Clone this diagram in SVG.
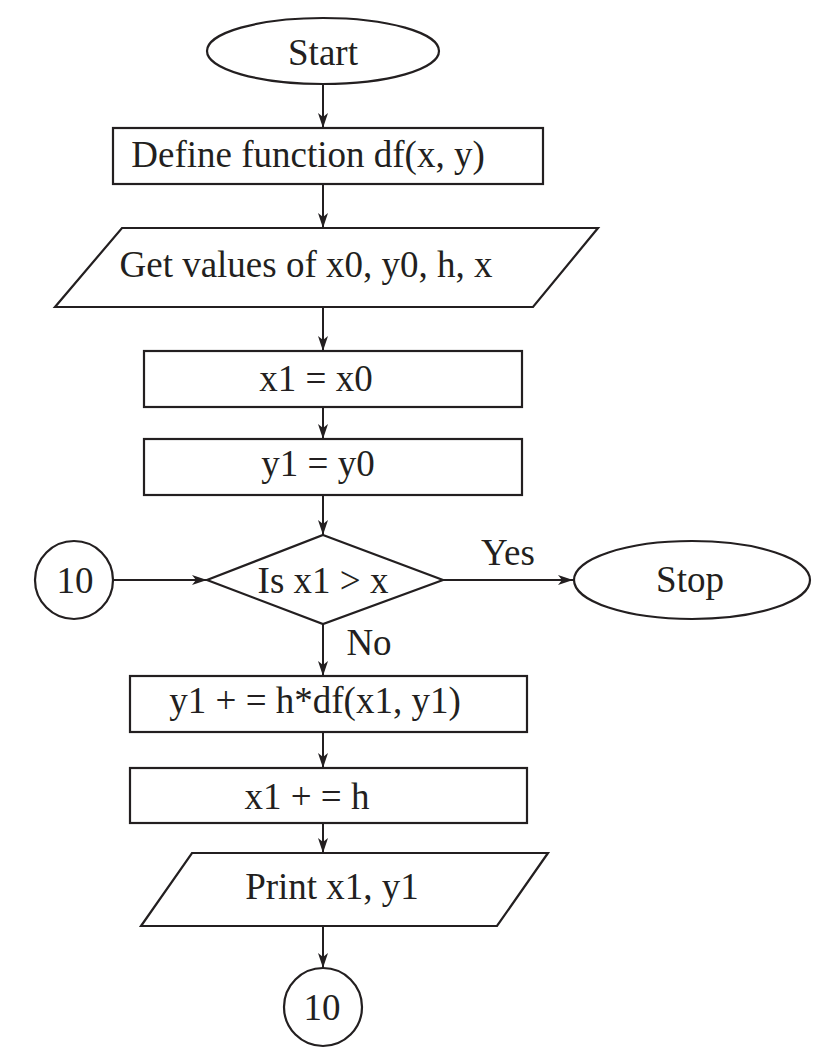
<svg xmlns="http://www.w3.org/2000/svg" width="815" height="1058" viewBox="0 0 815 1058">
<style>
.s{fill:#fff;stroke:#231f20;stroke-width:2.2}
.t{font-family:"Liberation Serif","Times New Roman",serif;font-size:37px;fill:#231f20;text-anchor:middle}
.c{stroke:#231f20;stroke-width:2;fill:none;marker-end:url(#a)}
</style>
<defs>
<marker id="a" markerWidth="15" markerHeight="10" refX="15" refY="5" orient="auto" markerUnits="userSpaceOnUse" viewBox="0 0 15 10">
<path d="M0,0 L15,5 L0,10 L4,5 Z" fill="#231f20"/>
</marker>
</defs>
<rect width="815" height="1058" fill="#fff"/>
<g id="connectors">
<line class="c" x1="323" y1="84" x2="323" y2="128"/>
<line class="c" x1="323" y1="184" x2="323" y2="228"/>
<line class="c" x1="323" y1="307" x2="323" y2="351"/>
<line class="c" x1="323" y1="407" x2="323" y2="439"/>
<line class="c" x1="323" y1="495" x2="323" y2="535"/>
<line class="c" x1="113" y1="580" x2="207" y2="580"/>
<line class="c" x1="443" y1="580" x2="573" y2="580"/>
<line class="c" x1="323" y1="624" x2="323" y2="676"/>
<line class="c" x1="323" y1="732" x2="323" y2="768"/>
<line class="c" x1="323" y1="823" x2="323" y2="853"/>
<line class="c" x1="323" y1="926" x2="323" y2="968"/>
<text class="t" x="508" y="565">Yes</text>
<text class="t" x="369" y="655">No</text>
</g>
<g id="start"><ellipse class="s" cx="323" cy="51" rx="116" ry="33"/><text class="t" x="323" y="65">Start</text></g>
<g id="define"><rect class="s" x="113" y="128" width="430" height="56"/><text class="t" x="308" y="167">Define function df(x, y)</text></g>
<g id="input"><polygon class="s" points="122,228 598,228 533,307 55,307"/><text class="t" x="306" y="277">Get values of x0, y0, h, x</text></g>
<g id="x1init"><rect class="s" x="144" y="351" width="378" height="56"/><text class="t" x="316" y="391">x1 = x0</text></g>
<g id="y1init"><rect class="s" x="144" y="439" width="378" height="56"/><text class="t" x="318" y="476">y1 = y0</text></g>
<g id="decision"><polygon class="s" points="323,535 443,580 323,624 207,580"/><text class="t" x="323" y="593">Is x1 &gt; x</text></g>
<g id="conn-in"><circle class="s" cx="74" cy="580" r="39"/><text class="t" x="75" y="593">10</text></g>
<g id="stop"><ellipse class="s" cx="692" cy="580" rx="118" ry="39"/><text class="t" x="690" y="592">Stop</text></g>
<g id="yupdate"><rect class="s" x="130" y="676" width="397" height="56"/><text class="t" x="315" y="713">y1 + = h*df(x1, y1)</text></g>
<g id="xupdate"><rect class="s" x="130" y="768" width="397" height="55"/><text class="t" x="307" y="809">x1 + = h</text></g>
<g id="print"><polygon class="s" points="192,853 548,853 497,926 141,926"/><text class="t" x="332" y="899">Print x1, y1</text></g>
<g id="conn-out"><circle class="s" cx="323" cy="1007" r="39"/><text class="t" x="322" y="1020">10</text></g>
</svg>
